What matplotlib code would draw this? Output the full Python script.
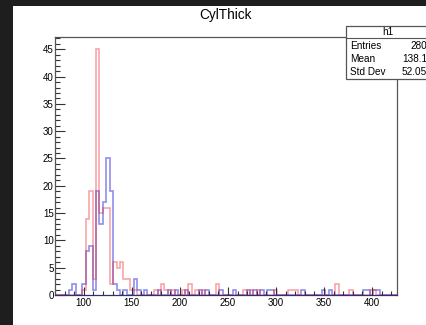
import numpy as np
import matplotlib.pyplot as plt
from matplotlib.patches import Rectangle
from matplotlib.ticker import MultipleLocator

plt.rcParams['font.family'] = ['Liberation Sans', 'DejaVu Sans']

# histogram binning: 100 bins between 70 and 426
x_lo, x_hi, n_bins = 70.0, 426.0, 100
edges = np.linspace(x_lo, x_hi, n_bins + 1)

# non-empty bins (bin index -> entries) for the two histograms
red_bins = [8, 9, 10, 11, 12, 13, 14, 15, 16, 17, 18, 19, 20, 21, 22, 23,
            29, 31, 32, 34, 37, 39, 41, 43, 47, 55, 57, 59, 64, 68, 69, 70,
            82, 86, 92, 93]
red_counts = [1, 14, 19, 3, 45, 15, 16, 16, 2, 6, 5, 6, 3, 3, 1, 1,
              1, 2, 1, 1, 1, 2, 1, 1, 2, 1, 1, 1, 1, 1, 1, 1,
              2, 1, 1, 1]

blue_bins = [4, 5, 8, 9, 10, 11, 12, 13, 14, 15, 16, 17, 18, 20, 23, 24, 26,
             30, 33, 35, 38, 42, 44, 48, 52, 56, 58, 60, 62, 63, 72, 78, 80,
             90, 91, 93, 94]
blue_counts = [1, 2, 2, 8, 9, 1, 19, 13, 17, 25, 19, 2, 1, 1, 3, 1, 1,
               1, 1, 1, 1, 1, 1, 1, 1, 1, 1, 1, 1, 1, 1, 1, 1,
               1, 1, 1, 1]

title = 'CylThick'
stats_name = 'h1'
stats_rows = [('Entries', '280'), ('Mean', '138.1'), ('Std Dev', '52.05')]

red = np.zeros(n_bins)
red[red_bins] = red_counts
blue = np.zeros(n_bins)
blue[blue_bins] = blue_counts

W, H = 426, 325
fig = plt.figure(figsize=(W / 100, H / 100), dpi=100, facecolor='#1e1e1e')

# white canvas behind everything
fig.patches.append(Rectangle((13 / W, 0), 1, (H - 6) / H, transform=fig.transFigure,
                             facecolor='white', edgecolor='none', zorder=-10))

ax = fig.add_axes([55 / W, 30 / H, 342 / W, 258 / H], zorder=1)
ax.set_facecolor('white')
ax.stairs(blue, edges, color=(0.2, 0.2, 0.85, 0.55), lw=1.2, baseline=None)
ax.stairs(red, edges, color=(0.95, 0.15, 0.2, 0.42), lw=1.2, baseline=None)

ax.set_xlim(x_lo, x_hi)
ax.set_ylim(0, max(red.max(), blue.max()) * 1.05)

ax.xaxis.set_major_locator(MultipleLocator(50))
ax.xaxis.set_minor_locator(MultipleLocator(10))
ax.yaxis.set_major_locator(MultipleLocator(5))
ax.yaxis.set_minor_locator(MultipleLocator(1))
ax.tick_params(axis='both', which='both', direction='in', colors='#333333',
               labelcolor='black', labelsize=7, width=0.8)
ax.tick_params(axis='x', which='major', length=6, pad=2.5)
ax.tick_params(axis='x', which='minor', length=3)
ax.tick_params(axis='y', which='major', length=7.5, pad=1)
ax.tick_params(axis='y', which='minor', length=3.6)
for side in ax.spines.values():
    side.set_color('#555555')
    side.set_linewidth(0.9)
ax.spines['bottom'].set_color('#303070')

fig.text(226 / W, 1 - 15 / H, title, ha='center', va='center', fontsize=9.8)

# statistics box
bx0, by0, bx1, by1 = 346, 26, 440, 79
fig.patches.append(Rectangle((bx0 / W, 1 - by1 / H), (bx1 - bx0) / W, (by1 - by0) / H,
                             transform=fig.transFigure, facecolor='white',
                             edgecolor='#555555', lw=0.9, zorder=5))
fig.lines.append(plt.Line2D([bx0 / W, 1], [1 - 38 / H, 1 - 38 / H],
                            transform=fig.transFigure, color='#555555', lw=0.8, zorder=6))
fig.text(388 / W, 1 - 32 / H, stats_name, ha='center', va='center', fontsize=7.2, zorder=7)
for i, (name, val) in enumerate(stats_rows):
    yy = 1 - (46 + 13 * i) / H
    fig.text(350 / W, yy, name, ha='left', va='center', fontsize=7.2, zorder=7)
    fig.text(427 / W, yy, val, ha='right', va='center', fontsize=7.2, zorder=7)

fig.savefig('out.png', dpi=100, facecolor=fig.get_facecolor())
